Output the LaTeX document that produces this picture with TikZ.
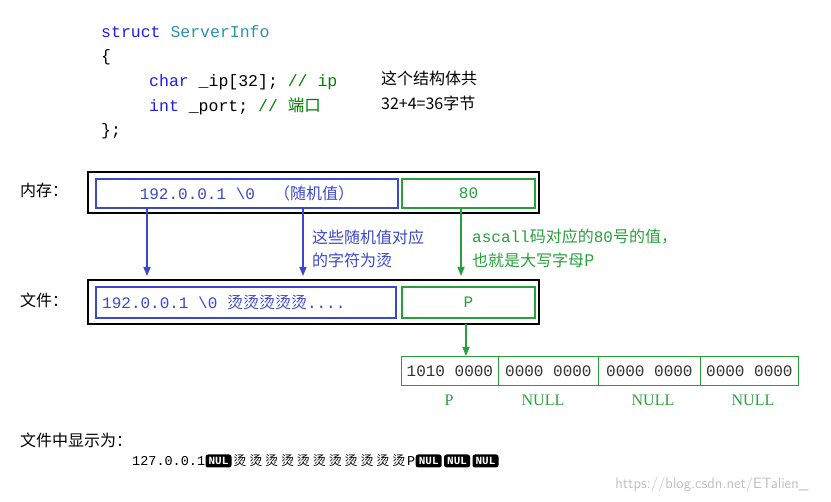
\documentclass[tikz,border=0pt]{standalone}
\usepackage{fontspec}
\setmainfont{Liberation Serif}
\setmonofont{Liberation Mono}
\newfontfamily\cjk{Noto Sans CJK SC}
\usetikzlibrary{arrows.meta}
\definecolor{bl}{RGB}{60,72,200}
\definecolor{gr}{RGB}{40,160,60}
\definecolor{kw}{RGB}{30,30,230}
\definecolor{tl}{RGB}{43,145,175}
\definecolor{cm}{RGB}{0,128,0}
\newcommand{\tang}{\makebox[15.9pt]{烫}}
\tikzset{
 code/.style={anchor=west,inner sep=0pt,font=\ttfamily\fontsize{16.5}{16.5}\selectfont},
 lab/.style={anchor=west,inner sep=0pt,font=\cjk\fontsize{16}{16}\selectfont},
 outer/.style={draw=black,line width=2pt},
 bbox/.style={draw=bl,line width=2pt},
 gbox/.style={draw=gr,line width=2pt},
 barr/.style={draw=bl,line width=1.5pt,-{Triangle[length=9pt,width=7pt]}},
 garr/.style={draw=gr,line width=1.5pt,-{Triangle[length=9pt,width=7pt]}},
 cell/.style={draw=gr,line width=0.8pt,minimum width=98pt,minimum height=29pt,inner sep=0pt,font=\ttfamily\fontsize{16}{16}\selectfont,text=black!80},
 nul/.style={fill=black,text=white,rounded corners=2.5pt,inner sep=0pt,minimum width=26pt,minimum height=13pt,font=\ttfamily\fontsize{11}{11}\selectfont\bfseries}
}
\begin{document}
\begin{tikzpicture}[x=1pt,y=-1pt]
\useasboundingbox[fill=white] (0,0) rectangle (831,502);
% code
\node[code] (c1) at (101,32) {\textcolor{kw}{struct} \textcolor{tl}{ServerInfo}};
\node[code] (c2) at (101,57) {\{};
\node[code] (c3) at (149,82) {\textcolor{kw}{char} \_ip[32]; \textcolor{cm}{// ip}};
\node[code] (c4) at (149,106) {\textcolor{kw}{int} \_port; \textcolor{cm}{// {\cjk 端口}}};
\node[code] (c5) at (101,131) {\};};
\node[lab] (t1) at (381,78) {这个结构体共};
\node[lab] (t2) at (381,103) {32+4=36字节};
% memory
\node[lab] (mem) at (20,190) {内存：};
\draw[outer] (88,172) rectangle (539,213);
\node[bbox,minimum width=302pt,minimum height=29pt,inner sep=0pt,anchor=north west,text=bl,font=\ttfamily\fontsize{16}{16}\selectfont] (mip) at (95,178) {192.0.0.1 \textbackslash0 \ {\cjk （随机值）}};
\node[gbox,minimum width=133pt,minimum height=29pt,inner sep=0pt,anchor=north west,text=gr,font=\ttfamily\fontsize{16}{16}\selectfont] (mport) at (401,178) {80};
% file
\node[lab] (file) at (20,300) {文件：};
\draw[outer] (88,280) rectangle (539,324);
\node[bbox,minimum width=300pt,minimum height=31pt,inner sep=0pt,anchor=north west] (fip) at (95,286) {};
\node[anchor=west,inner sep=0pt,text=bl,font=\ttfamily\fontsize{16}{16}\selectfont] (fiptext) at (102,302) {192.0.0.1 \textbackslash0 {\cjk 烫烫烫烫烫}....};
\node[gbox,minimum width=133pt,minimum height=31pt,inner sep=0pt,anchor=north west,text=gr,font=\ttfamily\fontsize{16}{16}\selectfont] (fport) at (401,286) {P};
% arrows
\coordinate (a1s) at (147,209); \coordinate (a1e) at (147,276);
\coordinate (a2s) at (303,209); \coordinate (a2e) at (303,276);
\coordinate (a3s) at (461,209); \coordinate (a3e) at (461,276);
\draw[barr] (a1s) -- (a1e);
\draw[barr] (a2s) -- (a2e);
\draw[garr] (a3s) -- (a3e);
\node[lab,text=bl] (n1) at (312,237) {这些随机值对应};
\node[lab,text=bl] (n2) at (312,260) {的字符为烫};
\node[lab,text=gr,font=\ttfamily\fontsize{16}{16}\selectfont] (n3) at (472,237) {ascall{\cjk 码对应的}80{\cjk 号的值，}};
\node[lab,text=gr] (n4) at (472,260) {也就是大写字母P};
% table
\coordinate (ts) at (466,324);
\node[cell,minimum width=97pt,anchor=north west] (k1) at (401,356) {1010 0000};
\node[cell,minimum width=100pt,anchor=north west] (k2) at (498,356) {0000 0000};
\node[cell,minimum width=102pt,anchor=north west] (k3) at (598,356) {0000 0000};
\node[cell,minimum width=98pt,anchor=north west] (k4) at (700,356) {0000 0000};
\draw[garr] (ts) -- (ts |- k1.north);
\node[text=gr,font=\fontsize{16}{16}\selectfont] (l1) at (449,400) {P};
\node[text=gr,font=\fontsize{16}{16}\selectfont] (l2) at (543,400) {NULL};
\node[text=gr,font=\fontsize{16}{16}\selectfont] (l3) at (653,400) {NULL};
\node[text=gr,font=\fontsize{16}{16}\selectfont] (l4) at (753,400) {NULL};
% display
\node[lab] (disp) at (20,440) {文件中显示为：};
\node[anchor=west,inner sep=0pt,font=\ttfamily\fontsize{13.5}{13.5}\selectfont] (d1) at (132,461) {127.0.0.1};
\node[nul,anchor=west] (u1) at (d1.east) {NUL};
\node[anchor=west,inner sep=0pt,font=\cjk\fontsize{13}{13}\selectfont] (d2) at (u1.east) {\tang\tang\tang\tang\tang\tang\tang\tang\tang\tang\tang};
\node[anchor=west,inner sep=0pt,font=\ttfamily\fontsize{13.5}{13.5}\selectfont] (d3) at (d2.east) {P};
\node[nul,anchor=west] (u2) at (d3.east) {NUL};
\node[nul,anchor=west] (u3) at ([xshift=2pt]u2.east) {NUL};
\node[nul,anchor=west] (u4) at ([xshift=2pt]u3.east) {NUL};
\node[anchor=east,text=black!25,font=\sffamily\fontsize{15}{15}\selectfont] (wm) at (812,485) {https://blog.csdn.net/ETalien\_};
\end{tikzpicture}
\end{document}
